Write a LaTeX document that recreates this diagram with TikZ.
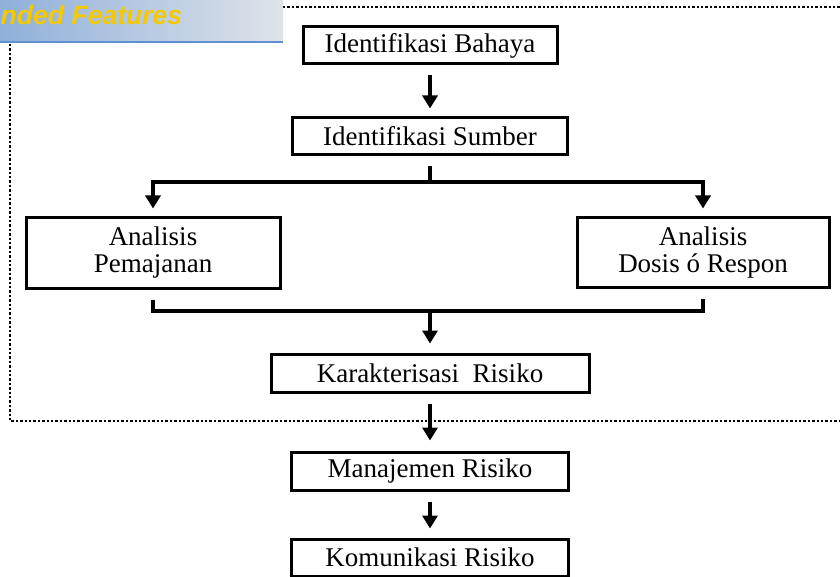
\documentclass[tikz,border=0pt]{standalone}
\usepackage{fontspec}
\setmainfont{Liberation Serif}
\newfontfamily\bannerfont{Liberation Sans}
\usetikzlibrary{arrows.meta,calc}
\definecolor{bannerL}{RGB}{143,176,218}
\definecolor{bannerR}{RGB}{222,227,233}
\definecolor{bannerline}{RGB}{95,145,210}
\definecolor{banneryellow}{RGB}{245,200,0}
\begin{document}
\begin{tikzpicture}[x=1pt,y=-1pt,
  box/.style={draw=black,line width=3pt,fill=white,inner sep=0pt,align=center,
              font=\fontsize{27}{27}\selectfont},
  conn/.style={line width=4pt,draw=black},
  arr/.style={conn,-{Triangle[width=15pt,length=13pt]}},
  framedot/.style={line width=2.4pt,dash pattern=on 2.4pt off 2pt}]

\useasboundingbox (0,0) rectangle (840,577);
\fill[white] (0,0) rectangle (840,577);

% dotted frame
\draw[framedot] (283,7) -- (845,7);
\draw[framedot] (10,44) -- (10,421) -- (845,421);

% banner
\shade[left color=bannerL,right color=bannerR] (0,0) rectangle (283,41);
\draw[line width=2pt,draw=bannerline] (0,42.5) -- (283,42.5);
\node[anchor=base west,inner sep=0pt,text=banneryellow,
      font=\bannerfont\bfseries\itshape\fontsize{26.5}{28}\selectfont] (banner) at (0.5,25) {nded Features};

% boxes
\node[box,minimum width=254,minimum height=37] (ib) at (430,45.5) {Identifikasi Bahaya};
\node[box,minimum width=275,minimum height=37] (is) at (430,136.5) {Identifikasi Sumber};
\node[box,minimum width=254,minimum height=70] (ap) at (153,253) {Analisis\\Pemajanan};
\node[box,minimum width=252,minimum height=69] (ad) at (703,252.5) {Analisis\\Dosis ó Respon};
\node[box,minimum width=318,minimum height=38] (kr) at (430,373) {Karakterisasi~ Risiko};
\node[box,minimum width=277,minimum height=38] (mr) at (430,471) {Manajemen Risiko};
\node[box,minimum width=277,minimum height=37] (km) at (430,557.5) {Komunikasi Risiko};

% connectors
\coordinate (sj) at (430,182);
\coordinate (mj) at (430,311);

\draw[arr] ($(ib.south)+(0,10)$) -- ($(is.north)+(0,-8)$);
\draw[conn] ($(is.south)+(0,10)$) -- (sj);
\draw[arr] (sj) -| ($(ap.north)+(0,-8)$);
\draw[arr] (sj) -| ($(ad.north)+(0,-8)$);
\draw[conn] ($(ap.south)+(0,10)$) |- (mj) -| ($(ad.south)+(0,10)$);
\draw[arr] (mj) -- ($(kr.north)+(0,-9)$);
\draw[arr] ($(kr.south)+(0,10)$) -- ($(mr.north)+(0,-10)$);
\draw[arr] ($(mr.south)+(0,10)$) -- ($(km.north)+(0,-9)$);
\end{tikzpicture}
\end{document}
